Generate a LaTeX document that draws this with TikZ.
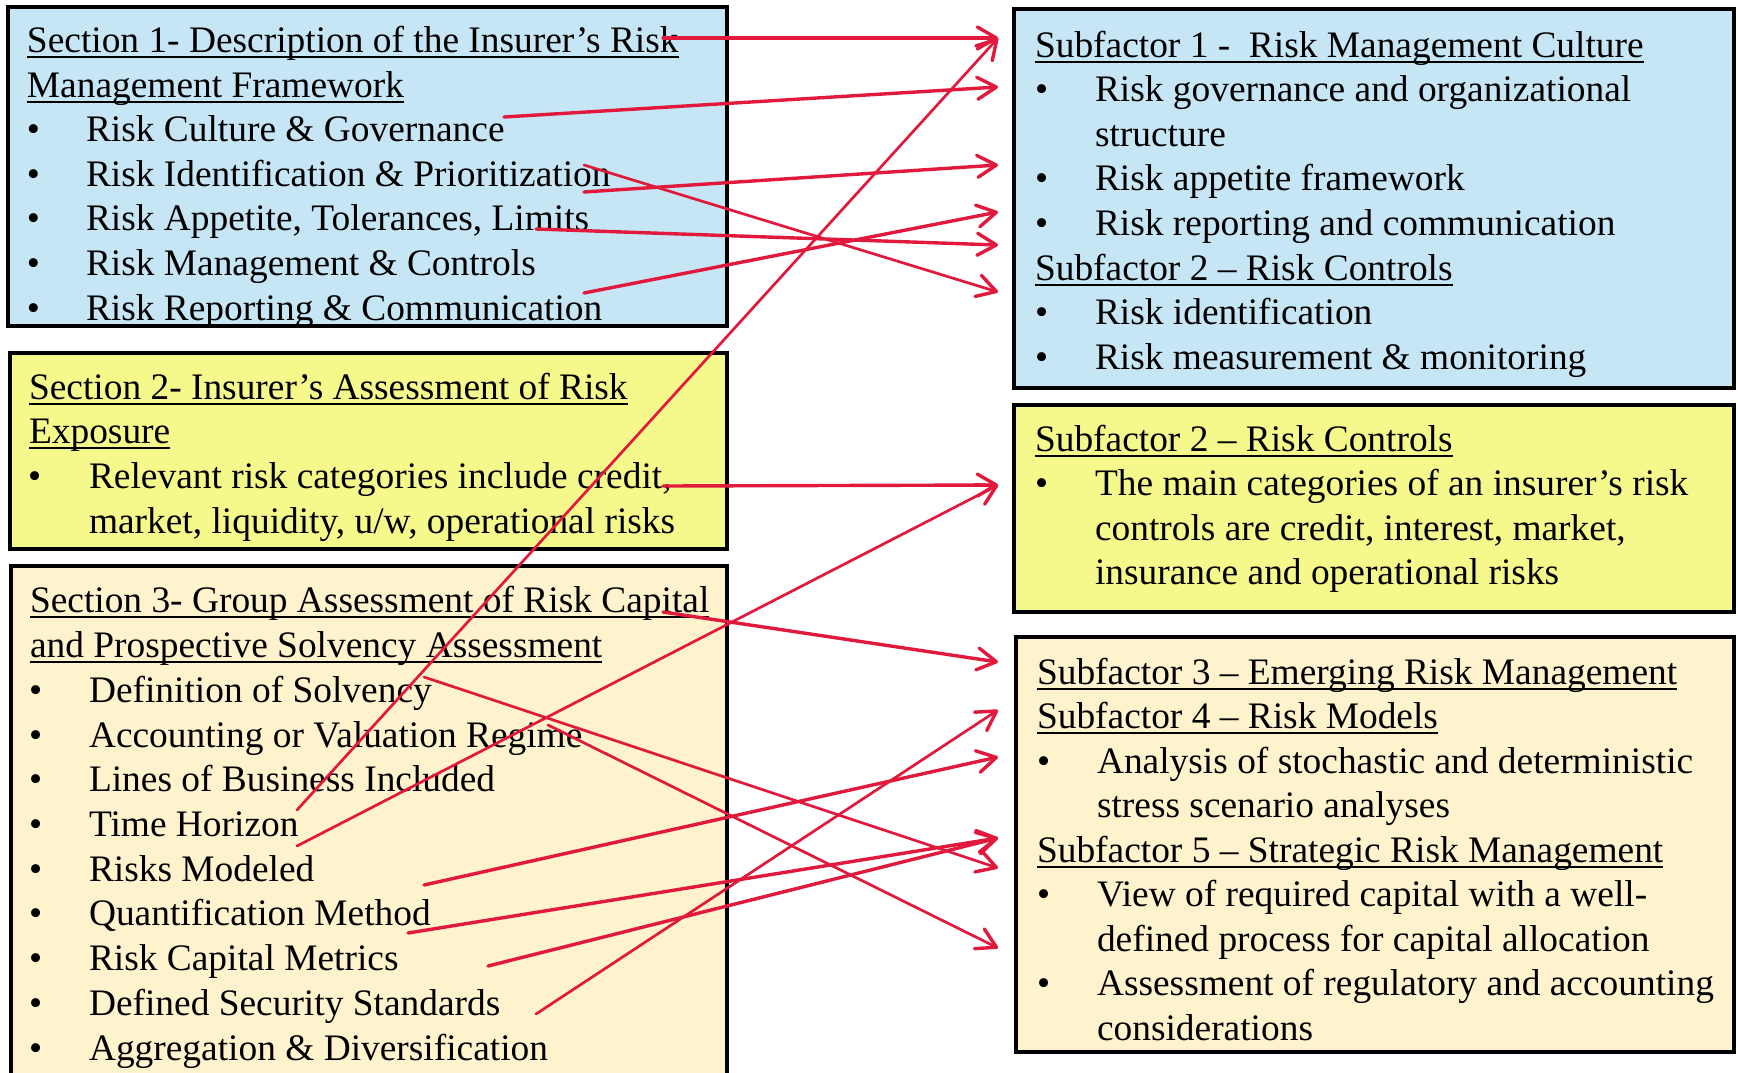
\documentclass[tikz,border=0pt]{standalone}
\usepackage{fontspec}
\setmainfont{Liberation Serif}
\usetikzlibrary{arrows.meta}
\definecolor{bluefill}{RGB}{198,230,245}
\definecolor{yellowfill}{RGB}{245,249,140}
\definecolor{creamfill}{RGB}{255,243,205}
\definecolor{arrowred}{RGB}{225,25,60}
\newsavebox\ulbox
\newcommand\myul[1]{\sbox\ulbox{#1}\rlap{\rule[-6pt]{\wd\ulbox}{1.8pt}}\usebox\ulbox}
\tikzset{
  txt/.style={anchor=base west, inner sep=0pt, outer sep=0pt, font=\fontsize{37.4}{44.9}\selectfont},
  boxframe/.style={draw=black, line width=3.5pt},
  link/.style={draw=arrowred, line width=3.4pt, line cap=round, -{Straight Barb[length=19pt, width=22pt, line width=3.4pt, line cap=round, line join=round]}},
  thinlink/.style={link, line width=2.7pt},
}
\newcommand\Ttl[4]{\node[txt] (#1) at (#2,#3) {\myul{#4}};}
\newcommand\Itm[5]{\node[txt] (#1b) at (#2,#4) {•}; \node[txt] (#1) at (#3,#4) {#5};}
\newcommand\Cnt[4]{\node[txt] (#1) at (#2,#3) {#4};}
\begin{document}
\begin{tikzpicture}[x=1pt, y=-1pt]
\useasboundingbox (0,0) rectangle (1738,1072);
% ---- boxes ----
\path[boxframe, fill=bluefill] (8,7) rectangle (727,326);
\path[boxframe, fill=yellowfill] (10,353) rectangle (727,549);
\path[boxframe, fill=creamfill] (11,566) rectangle (727,1095);
\path[boxframe, fill=bluefill] (1014,9) rectangle (1734,388);
\path[boxframe, fill=yellowfill] (1014,405) rectangle (1734,612);
\path[boxframe, fill=creamfill] (1016,637) rectangle (1734,1052);
% ---- box 1 ----
\Ttl{aT1}{27}{52}{Section 1- Description of the Insurer’s Risk}
\Ttl{aT2}{27}{97}{Management Framework}
\Itm{aI1}{27}{86}{141}{Risk Culture \& Governance}
\Itm{aI2}{27}{86}{186}{Risk Identification \& Prioritization}
\Itm{aI3}{27}{86}{230}{Risk Appetite, Tolerances, Limits}
\Itm{aI4}{27}{86}{275}{Risk Management \& Controls}
\Itm{aI5}{27}{86}{320}{Risk Reporting \& Communication}
% ---- box 2 ----
\Ttl{bT1}{29}{399}{Section 2- Insurer’s Assessment of Risk}
\Ttl{bT2}{29}{443}{Exposure}
\Itm{bI1}{28}{89}{488}{Relevant risk categories include credit,}
\Cnt{bI1c}{89}{533}{market, liquidity, u/w, operational risks}
% ---- box 3 ----
\Ttl{cT1}{30}{612}{Section 3- Group Assessment of Risk Capital}
\Ttl{cT2}{30}{657}{and Prospective Solvency Assessment}
\Itm{cI1}{29}{89}{702}{Definition of Solvency}
\Itm{cI2}{29}{89}{747}{Accounting or Valuation Regime}
\Itm{cI3}{29}{89}{791}{Lines of Business Included}
\Itm{cI4}{29}{89}{836}{Time Horizon}
\Itm{cI5}{29}{89}{881}{Risks Modeled}
\Itm{cI6}{29}{89}{925}{Quantification Method}
\Itm{cI7}{29}{89}{970}{Risk Capital Metrics}
\Itm{cI8}{29}{89}{1015}{Defined Security Standards}
\Itm{cI9}{29}{89}{1060}{Aggregation \& Diversification}
% ---- right box A ----
\Ttl{dT1}{1035}{57}{Subfactor 1 -~ Risk Management Culture}
\Itm{dI1}{1035}{1095}{101}{Risk governance and organizational}
\Cnt{dI1c}{1095}{146}{structure}
\Itm{dI2}{1035}{1095}{190}{Risk appetite framework}
\Itm{dI3}{1035}{1095}{235}{Risk reporting and communication}
\Ttl{dT2}{1035}{280}{Subfactor 2 – Risk Controls}
\Itm{dI4}{1035}{1095}{324}{Risk identification}
\Itm{dI5}{1035}{1095}{369}{Risk measurement \& monitoring}
% ---- right box B ----
\Ttl{eT1}{1035}{451}{Subfactor 2 – Risk Controls}
\Itm{eI1}{1035}{1095}{495}{The main categories of an insurer’s risk}
\Cnt{eI1c}{1095}{540}{controls are credit, interest, market,}
\Cnt{eI1d}{1095}{584}{insurance and operational risks}
% ---- right box C ----
\Ttl{fT1}{1037}{684}{Subfactor 3 – Emerging Risk Management}
\Ttl{fT2}{1037}{728}{Subfactor 4 – Risk Models}
\Itm{fI1}{1037}{1097}{773}{Analysis of stochastic and deterministic}
\Cnt{fI1c}{1097}{817}{stress scenario analyses}
\Ttl{fT3}{1037}{862}{Subfactor 5 – Strategic Risk Management}
\Itm{fI2}{1037}{1097}{906}{View of required capital with a well-}
\Cnt{fI2c}{1097}{951}{defined process for capital allocation}
\Itm{fI3}{1037}{1097}{995}{Assessment of regulatory and accounting}
\Cnt{fI3c}{1097}{1040}{considerations}
% ---- connector ends ----
\coordinate (s1) at (663,38);   \coordinate (t1) at (998,38);
\coordinate (s2) at (504,117);  \coordinate (t2) at (998,87);
\coordinate (s3) at (584,192);  \coordinate (t3) at (998,165);
\coordinate (s4) at (584,165);  \coordinate (t4) at (998,292);
\coordinate (s5) at (536,229);  \coordinate (t5) at (998,245);
\coordinate (s6) at (584,293);  \coordinate (t6) at (998,212);
\coordinate (s7) at (297,810);
\coordinate (s8) at (297,846);  \coordinate (t8) at (998,485);
\coordinate (s9) at (663,486);
\coordinate (s10) at (663,612); \coordinate (t10) at (998,662);
\coordinate (s11) at (424,677); \coordinate (t11) at (998,868);
\coordinate (s12) at (548,725); \coordinate (t12) at (998,948);
\coordinate (s13) at (424,885); \coordinate (t13) at (998,757);
\coordinate (s14) at (408,933); \coordinate (t14) at (998,838);
\coordinate (s15) at (488,966);
\coordinate (s16) at (536,1014);\coordinate (t16) at (998,710);
% ---- connectors ----
\draw[link] (s1) -- (t1);
\draw[link] (s2) -- (t2);
\draw[link] (s3) -- (t3);
\draw[thinlink] (s4) -- (t4);
\draw[link] (s5) -- (t5);
\draw[link] (s6) -- (t6);
\draw[thinlink] (s7) -- (t1);
\draw[thinlink] (s8) -- (t8);
\draw[link] (s9) -- (t8);
\draw[link] (s10) -- (t10);
\draw[thinlink] (s11) -- (t11);
\draw[thinlink] (s12) -- (t12);
\draw[link] (s13) -- (t13);
\draw[link] (s14) -- (t14);
\draw[link] (s15) -- (t14);
\draw[thinlink] (s16) -- (t16);
\end{tikzpicture}
\end{document}
